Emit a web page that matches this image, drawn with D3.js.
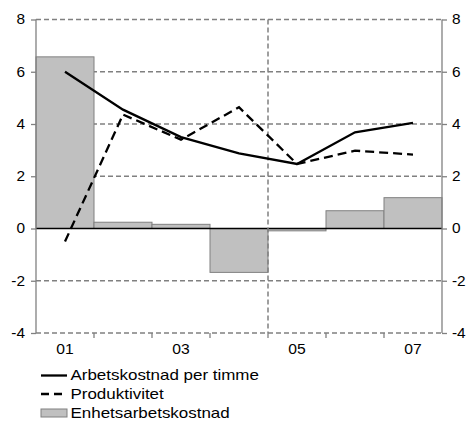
<!DOCTYPE html>
<html><head><meta charset="utf-8">
<script src="https://cdn.jsdelivr.net/npm/d3@7"></script>
<style>
html,body{margin:0;padding:0;background:#fff;}
text{font-family:"Liberation Sans",Arial,sans-serif;fill:#000;}
</style></head>
<body><svg id="c" width="467" height="423"></svg>
<script>
const years = ["2001","2002","2003","2004","2005","2006","2007"];
const tickLabels = ["01","","03","","05","","07"];
const arbetskostnad = [6.0, 4.55, 3.5, 2.88, 2.47, 3.68, 4.04];
const produktivitet = [-0.5, 4.36, 3.4, 4.64, 2.47, 2.98, 2.83];
const enhetsarbetskostnad = [6.57, 0.24, 0.16, -1.68, -0.09, 0.68, 1.18];
const yTicks = [-4, -2, 0, 2, 4, 6, 8];
const seriesNames = ["Arbetskostnad per timme","Produktivitet","Enhetsarbetskostnad"];

const svg = d3.select("#c");
const L = 36, R = 442, T = 19.5, B = 333;
const x = d3.scaleBand().domain(years).range([L, R]).padding(0);
const y = d3.scaleLinear().domain([-4, 8]).range([B, T]);
const grey = "#808080";
const FONT = '"Liberation Sans",Arial,sans-serif';

// horizontally widen a text element about its anchor x
function widen(sel, s) {
  sel.each(function() {
    const t = d3.select(this);
    const ax = +t.attr("x") || 0;
    t.attr("transform", (t.attr("transform") || "") + ` translate(${ax},0) scale(${s},1) translate(${-ax},0)`);
  });
}

// gridlines
svg.append("g").selectAll("line").data(yTicks.filter(d => d !== 0)).join("line")
  .attr("x1", L).attr("x2", R).attr("y1", d => y(d)).attr("y2", d => y(d))
  .attr("stroke", grey).attr("stroke-width", 1.5).attr("stroke-dasharray", "5,3");

// bars
svg.append("g").selectAll("rect").data(years).join("rect")
  .attr("x", d => x(d)).attr("width", x.bandwidth())
  .attr("y", (d, i) => y(Math.max(0, enhetsarbetskostnad[i])))
  .attr("height", (d, i) => Math.abs(y(enhetsarbetskostnad[i]) - y(0)))
  .attr("fill", "#c0c0c0").attr("stroke", grey).attr("stroke-width", 1);

// zero line
svg.append("line").attr("x1", L).attr("x2", R).attr("y1", y(0)).attr("y2", y(0))
  .attr("stroke", "#000").attr("stroke-width", 1.3);

// vertical dashed separator between 2004 and 2005
svg.append("line").attr("x1", x("2005")).attr("x2", x("2005")).attr("y1", T).attr("y2", B)
  .attr("stroke", grey).attr("stroke-width", 1.5).attr("stroke-dasharray", "5,3");

// axes
const fmt = d => String(d);
const yL = d3.axisLeft(y).tickValues(yTicks).tickSize(5).tickPadding(6).tickFormat(fmt);
const yR = d3.axisRight(y).tickValues(yTicks).tickSize(5).tickPadding(5).tickFormat(fmt);
function styleAxis(g) {
  g.select(".domain").attr("stroke", grey).attr("stroke-width", 1.3).attr("d", `M0,${T}V${B}`);
  g.selectAll(".tick line").attr("stroke", grey).attr("stroke-width", 1.3);
  g.selectAll("text").attr("font-family", FONT).attr("font-size", 14).attr("fill", "#000").call(widen, 1.1);
}
svg.append("g").attr("transform", `translate(${L},0)`).call(yL).call(styleAxis);
svg.append("g").attr("transform", `translate(${R},0)`).call(yR).call(styleAxis);

// bottom ticks at band boundaries
const bounds = years.slice(1).map(d => x(d));
svg.append("g").selectAll("line").data(bounds).join("line")
  .attr("x1", d => d).attr("x2", d => d).attr("y1", B).attr("y2", B + 5)
  .attr("stroke", grey).attr("stroke-width", 1.3);
svg.append("g").selectAll("text").data(years).join("text")
  .attr("x", d => x(d) + x.bandwidth() / 2).attr("y", B + 21)
  .attr("text-anchor", "middle").attr("font-size", 14)
  .text((d, i) => tickLabels[i]).call(widen, 1.12);

// lines
const line = d3.line().x((d, i) => x(years[i]) + x.bandwidth() / 2).y(d => y(d));
svg.append("path").datum(produktivitet).attr("d", line)
  .attr("fill", "none").attr("stroke", "#000").attr("stroke-width", 2.3).attr("stroke-dasharray", "9,5");
svg.append("path").datum(arbetskostnad).attr("d", line)
  .attr("fill", "none").attr("stroke", "#000").attr("stroke-width", 2.3);

// legend
const lg = svg.append("g");
const ly = [375.5, 394, 413];
lg.append("line").attr("x1", 41).attr("x2", 67).attr("y1", ly[0]).attr("y2", ly[0]).attr("stroke", "#000").attr("stroke-width", 2.3);
lg.append("line").attr("x1", 41).attr("x2", 67).attr("y1", ly[1]).attr("y2", ly[1]).attr("stroke", "#000").attr("stroke-width", 2.3).attr("stroke-dasharray", "8,5");
lg.append("rect").attr("x", 41).attr("y", ly[2] - 4).attr("width", 26).attr("height", 8).attr("fill", "#c0c0c0").attr("stroke", grey);
lg.selectAll("text").data(seriesNames).join("text")
  .attr("x", 70.5).attr("y", (d, i) => ly[i] + 5).attr("font-size", 14.5)
  .text(d => d).call(widen, 1.17);
</script></body></html>
